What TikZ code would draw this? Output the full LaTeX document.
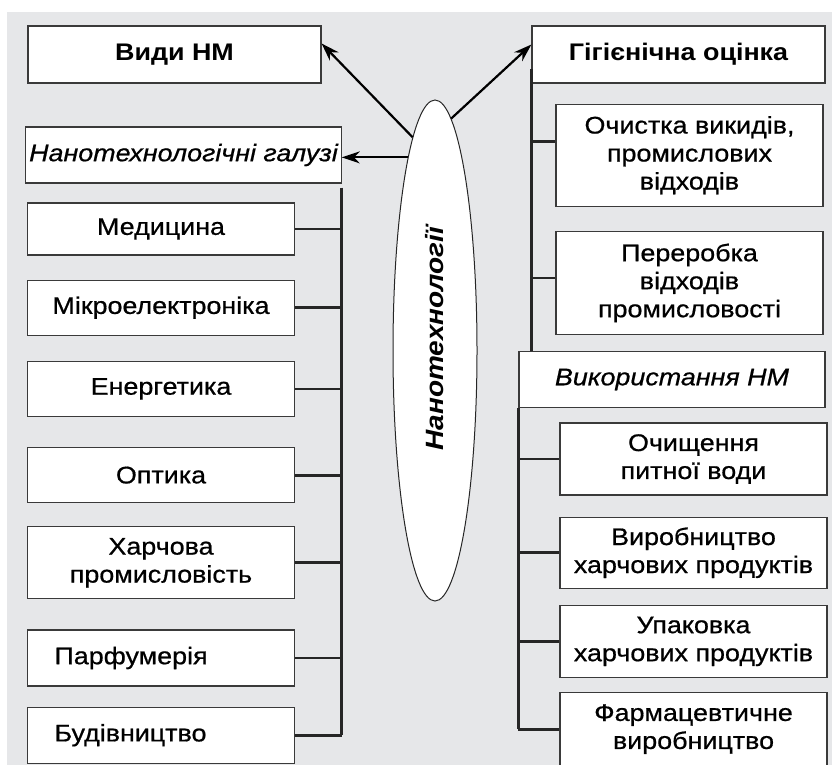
\documentclass[tikz,border=0pt]{standalone}
\usepackage{fontspec}
\setmainfont[FakeStretch=1.12,
  UprightFeatures={FakeBold=0.7},
  ItalicFeatures={FakeBold=0.7}]{Liberation Sans}
\usetikzlibrary{arrows.meta,positioning,shapes.geometric}

\definecolor{bggray}{HTML}{E6E7E9}
\definecolor{boxline}{HTML}{3A3A3A}

\begin{document}
\begin{tikzpicture}[x=1pt,y=-1pt,
  head/.style={draw=boxline,line width=1.2pt,fill=white,minimum height=57pt,
               align=center,font=\fontsize{24}{28}\selectfont\bfseries},
  group/.style={draw=boxline,line width=1.2pt,fill=white,minimum height=56pt,
               align=center,font=\fontsize{24}{28}\selectfont\itshape},
  item/.style={draw=boxline,line width=1.2pt,fill=white,minimum width=267pt,
               minimum height=55pt,align=center,font=\fontsize{24}{28}\selectfont},
  leftitem/.style={item,text width=213pt,inner xsep=27pt,align=left},
  trunk/.style={line width=2.8pt,draw=black!85},
  arr/.style={-{Stealth[length=18pt,width=12pt]},line width=2.2pt},
]
  \useasboundingbox (0,0) rectangle (832,765);
  \fill[bggray] (7,12) rectangle (832,765);

  % centre
  \node[ellipse,draw=black!85,line width=1pt,fill=white,minimum width=84pt,
        minimum height=501pt,inner sep=0pt] (nano) at (435,350.5) {};
  \node[rotate=90,font=\fontsize{25}{28}\selectfont\bfseries\itshape]
        (nanotxt) at ([yshift=12pt]nano.center) {Нанотехнології};

  % top boxes
  \node[head,minimum width=293pt] (vydy) at (174.5,54.5) {Види НМ};
  \node[head,minimum width=293pt] (hig)  at (678.5,54.5) {Гігієнічна оцінка};

  % left column
  \node[group,minimum width=311pt] (galuzi) at (183.5,155) {Нанотехнологічні галузі};
  \node[item,minimum height=52pt] (med) at (161,229) {Медицина};
  \node[item,below=24pt of med]    (mikro)  {Мікроелектроніка};
  \node[item,below=25pt of mikro]  (energ)  {Енергетика};
  \node[item,below=30pt of energ]  (optyka) {Оптика};
  \node[item,below=23pt of optyka,minimum height=72pt] (harch) {Харчова\\промисловість};
  \node[leftitem,below=30pt of harch,minimum height=56pt] (parf) {Парфумерія};
  \node[leftitem,below=20pt of parf,minimum height=56pt]  (bud)  {Будівництво};

  % right column
  \node[item,minimum height=102pt,below=20pt of hig.south east,anchor=north east,
        xshift=-2pt] (ochystka) {Очистка викидів,\\промислових\\відходів};
  \node[item,minimum height=103pt,below=24pt of ochystka] (pererobka)
        {Переробка\\відходів\\промисловості};
  \node[group,minimum width=306pt] (vyk) at (672,379.5) {Використання НМ};
  \node[item,minimum height=72pt] (ochyshch) at (693.5,459) {Очищення\\питної води};
  \node[item,minimum height=71pt,below=21pt of ochyshch] (vyrob)
        {Виробництво\\харчових продуктів};
  \node[item,minimum height=72pt,below=16pt of vyrob] (upak)
        {Упаковка\\харчових продуктів};
  \node[item,minimum height=73pt,below=14pt of upak] (farm)
        {Фармацевтичне\\виробництво};

  % arrows from the centre
  \draw[arr] (nano.96) -- ([yshift=11pt]vydy.east);
  \draw[arr] (nano.86) -- ([yshift=10pt]hig.west);
  \draw[arr] (nano.98) -- (nano.98 -| galuzi.east);

  % trunks
  \draw[trunk] ([yshift=-4pt]galuzi.south east) -- (galuzi.south east |- bud.east);
  \foreach \n in {med,mikro,energ,optyka,harch,parf,bud}
    \draw[trunk] (\n.east) -- (\n.east -| galuzi.east);

  \draw[trunk] ([yshift=15pt]hig.south west) -- (hig.south west |- vyk.north);
  \draw[trunk] ([yshift=14pt]ochystka.west) -- ([yshift=14pt]ochystka.west -| hig.west);
  \draw[trunk] ([yshift=5pt]pererobka.west) -- ([yshift=5pt]pererobka.west -| hig.west);

  \draw[trunk] (vyk.south west) -- (vyk.south west |- farm.west);
  \foreach \n in {ochyshch,vyrob,upak,farm}
    \draw[trunk] (\n.west) -- (\n.west -| vyk.west);
\end{tikzpicture}
\end{document}
